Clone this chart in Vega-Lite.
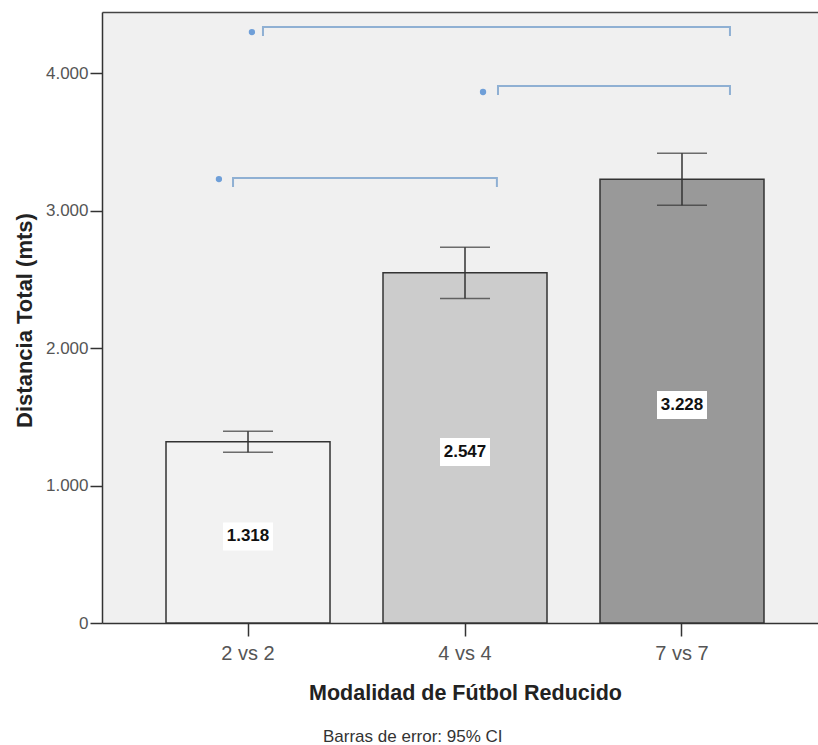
{
  "$schema": "https://vega.github.io/schema/vega-lite/v6.json",
  "width": 716,
  "height": 611,
  "autosize": "none",
  "padding": {"left": 102, "top": 12, "right": 0, "bottom": 122},
  "background": "white",
  "config": {
    "view": {"fill": "#f0f0f0", "stroke": null},
    "font": "Liberation Sans"
  },
  "title": {
    "text": "Barras de error: 95% CI",
    "orient": "bottom",
    "anchor": "start",
    "dx": 310,
    "offset": 25,
    "font": "Liberation Sans",
    "fontSize": 17,
    "fontWeight": "normal",
    "color": "#333"
  },
  "datasets": {
    "bars": [
      {"mod": "2 vs 2", "mean": 1318, "lo": 1242, "hi": 1394},
      {"mod": "4 vs 4", "mean": 2547, "lo": 2361, "hi": 2733},
      {"mod": "7 vs 7", "mean": 3228, "lo": 3039, "hi": 3417}
    ],
    "brackets": [
      {"pair": "A", "i": 0, "x": -0.069, "y": 3171},
      {"pair": "A", "i": 1, "x": -0.069, "y": 3236},
      {"pair": "A", "i": 2, "x": 1.147, "y": 3236},
      {"pair": "A", "i": 3, "x": 1.147, "y": 3171},
      {"pair": "B", "i": 0, "x": 1.152, "y": 3840},
      {"pair": "B", "i": 1, "x": 1.152, "y": 3905},
      {"pair": "B", "i": 2, "x": 2.221, "y": 3905},
      {"pair": "B", "i": 3, "x": 2.221, "y": 3840},
      {"pair": "C", "i": 0, "x": 0.069, "y": 4269},
      {"pair": "C", "i": 1, "x": 0.069, "y": 4335},
      {"pair": "C", "i": 2, "x": 2.221, "y": 4335},
      {"pair": "C", "i": 3, "x": 2.221, "y": 4269}
    ],
    "dots": [
      {"pair": "A", "x": -0.134, "y": 3229},
      {"pair": "B", "x": 1.083, "y": 3862},
      {"pair": "C", "x": 0.018, "y": 4298}
    ]
  },
  "layer": [
    {
      "data": {"name": "bars"},
      "transform": [
        {"calculate": "datum.mean / 2", "as": "mid"},
        {"calculate": "replace(format(datum.mean, ','), ',', '.')", "as": "label"}
      ],
      "encoding": {
        "x": {
          "field": "mod",
          "type": "nominal",
          "sort": null,
          "scale": {"paddingInner": 0.2442, "paddingOuter": 0.2719, "align": 0.5424},
          "axis": {
            "orient": "bottom",
            "domainColor": "#333",
            "domainWidth": 1.5,
            "tickColor": "#333",
            "tickWidth": 1.5,
            "tickSize": 13,
            "labelAngle": 0,
            "labelFont": "Liberation Sans",
            "labelFontSize": 20,
            "labelColor": "#555",
            "labelPadding": 7,
            "title": "Modalidad de Fútbol Reducido",
            "titleFont": "Liberation Sans",
            "titleFontSize": 21.5,
            "titleFontWeight": "bold",
            "titleColor": "#222",
            "titleBaseline": "alphabetic",
            "titleX": 363,
            "titleY": 76
          }
        }
      },
      "layer": [
        {
          "mark": {"type": "bar", "stroke": "#333", "strokeWidth": 1.5, "opacity": 1},
          "encoding": {
            "y": {
              "field": "mean",
              "type": "quantitative",
              "scale": {"domain": [0, 4444], "nice": false},
              "axis": {
                "values": [0, 1000, 2000, 3000, 4000],
                "labelExpr": "replace(format(datum.value, ','), ',', '.')",
                "grid": false,
                "domainColor": "#333",
                "domainWidth": 1.5,
                "tickColor": "#333",
                "tickWidth": 1.5,
                "tickSize": 12,
                "labelFont": "Liberation Sans",
                "labelFontSize": 17,
                "labelColor": "#555",
                "labelPadding": 2,
                "title": "Distancia Total (mts)",
                "titleFont": "Liberation Sans",
                "titleFontSize": 22,
                "titleFontWeight": "bold",
                "titleColor": "#222",
                "titleAngle": -90,
                "titleAlign": "center",
                "titleBaseline": "middle",
                "titleX": -78,
                "titleY": 308
              }
            },
            "color": {
              "field": "mod",
              "type": "nominal",
              "sort": null,
              "scale": {"range": ["#f2f2f2", "#cccccc", "#999999"]},
              "legend": null
            }
          }
        },
        {
          "mark": {"type": "rule", "color": "#333", "strokeWidth": 1.5},
          "encoding": {
            "y": {"field": "lo", "type": "quantitative"},
            "y2": {"field": "hi"}
          }
        },
        {
          "mark": {"type": "tick", "color": "#333", "size": 50, "thickness": 1.5, "orient": "horizontal"},
          "encoding": {"y": {"field": "lo", "type": "quantitative"}}
        },
        {
          "mark": {"type": "tick", "color": "#333", "size": 50, "thickness": 1.5, "orient": "horizontal"},
          "encoding": {"y": {"field": "hi", "type": "quantitative"}}
        },
        {
          "mark": {
            "type": "point",
            "shape": "M-1,-0.56H1V0.56H-1Z",
            "size": 2500,
            "filled": true,
            "color": "white",
            "opacity": 1,
            "strokeWidth": 0,
            "yOffset": 4
          },
          "encoding": {"y": {"field": "mid", "type": "quantitative"}}
        },
        {
          "mark": {
            "type": "text",
            "font": "Liberation Sans",
            "fontWeight": "bold",
            "fontSize": 17,
            "color": "#111",
            "baseline": "middle",
            "align": "center",
            "dy": 4
          },
          "encoding": {
            "y": {"field": "mid", "type": "quantitative"},
            "text": {"field": "label"}
          }
        }
      ]
    },
    {
      "layer": [
        {
          "data": {"name": "brackets"},
          "mark": {"type": "line", "color": "#8fb0d3", "strokeWidth": 2, "interpolate": "linear"},
          "encoding": {
            "x": {
              "field": "x",
              "type": "quantitative",
              "scale": {"domain": [-0.6728, 2.6267], "nice": false, "zero": false},
              "axis": {
                "orient": "top",
                "domain": true,
                "domainColor": "#444",
                "domainWidth": 1.5,
                "ticks": false,
                "labels": false,
                "grid": false,
                "title": null
              }
            },
            "y": {"field": "y", "type": "quantitative", "scale": {"domain": [0, 4444], "nice": false}},
            "detail": {"field": "pair"},
            "order": {"field": "i"}
          }
        },
        {
          "data": {"name": "dots"},
          "mark": {"type": "circle", "color": "#6f9fd8", "size": 40, "opacity": 1},
          "encoding": {
            "x": {"field": "x", "type": "quantitative"},
            "y": {"field": "y", "type": "quantitative"}
          }
        }
      ]
    }
  ],
  "resolve": {"scale": {"x": "independent", "color": "independent"}}
}
